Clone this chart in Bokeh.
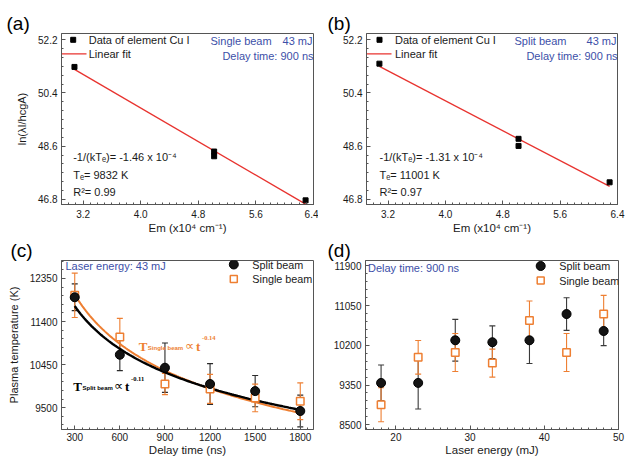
import numpy as np
from bokeh.plotting import figure
from bokeh.models import (Range1d, Label, Whisker, ColumnDataSource, FixedTicker,
                          TeeHead, PrintfTickFormatter)
from bokeh.layouts import row, column
from bokeh.embed import file_html
from bokeh.resources import INLINE

# ---------------- data ----------------
# (a) / (b) Boltzmann plots
em_levels = [3.08, 5.02, 5.02, 6.29]            # Em (x10^4 cm^-1)
ln_single = [51.28, 48.42, 48.26, 46.77]        # single beam, 43 mJ, 900 ns
ln_split = [51.39, 48.85, 48.61, 47.38]         # split beam, 43 mJ, 900 ns
em_ticks = [3.2, 4.0, 4.8, 5.6, 6.4]
ln_ticks = [46.8, 48.6, 50.4, 52.2]

# (c) temperature vs delay time
delay = [300, 600, 900, 1200, 1500, 1800]
T_split_delay = [11935, 10667, 10381, 10022, 9865, 9426]
err_split_delay = [295, 350, 545, 450, 345, 350]
T_single_delay = [11978, 11060, 10022, 9914, 9714, 9641]
err_single_delay = [490, 410, 235, 320, 305, 405]
# power-law fits T = T300 * (t/300)^k, as drawn in the figure
fit_T300 = {"split": 11741, "single": 11993}
fit_exponent = {"split": -0.121, "single": -0.137}
delay_ticks = [300, 600, 900, 1200, 1500, 1800]
Tc_ticks = [9500, 10450, 11400, 12350]

# (d) temperature vs laser energy
energy = [18, 23, 28, 33, 38, 43, 48]
T_split_energy = [9395, 9395, 10308, 10266, 10308, 10870, 10507]
err_split_energy = [385, 560, 447, 350, 497, 350, 313]
T_single_energy = [8927, 9943, 10046, 9819, 10734, 10046, 10870]
err_single_energy = [365, 360, 406, 300, 415, 406, 400]
energy_ticks = [20, 30, 40, 50]
Td_ticks = [8500, 9350, 10200, 11050, 11900]

# ---------------- style ----------------
FONT = "Liberation Sans"
SERIF = "Liberation Serif"
BLUE = "#3C4FA8"
ORANGE = "#EE7F32"
RED = "#E8332F"
AX = "#555555"
TXT = "#1a1a1a"


def make_fig(w, h, l, r, t, b, xr, yr, xticks, xminor, yticks, yminor,
             tag, tag_offset, fmt=None):
    p = figure(width=w, height=h, min_border_left=l, min_border_right=r,
               min_border_top=t, min_border_bottom=b,
               x_range=Range1d(*xr), y_range=Range1d(*yr),
               output_backend="svg", toolbar_location=None)
    fw, fh = w - l - r, h - t - b
    p.extra_x_ranges = {"px": Range1d(0, fw)}
    p.extra_y_ranges = {"py": Range1d(fh, 0)}
    p.xgrid.visible = False
    p.ygrid.visible = False
    p.outline_line_color = AX
    p.background_fill_color = "white"
    p.border_fill_color = "white"
    # panel tag as the title
    p.title.text = tag
    p.title.align = "left"
    p.title.offset = tag_offset
    p.title.standoff = 0
    p.title.text_font = FONT
    p.title.text_font_size = "19px"
    p.title.text_font_style = "normal"
    p.title.text_color = "black"
    p.xaxis.ticker = FixedTicker(ticks=xticks, minor_ticks=xminor)
    p.yaxis.ticker = FixedTicker(ticks=yticks, minor_ticks=yminor)
    if fmt:
        p.xaxis.formatter = PrintfTickFormatter(format=fmt)
        p.yaxis.formatter = PrintfTickFormatter(format=fmt)
    for ax in p.axis:
        ax.axis_line_color = AX
        ax.major_tick_in = 4
        ax.major_tick_out = 0
        ax.minor_tick_in = 2
        ax.minor_tick_out = 0
        ax.major_tick_line_color = AX
        ax.minor_tick_line_color = AX
        ax.major_label_text_font = FONT
        ax.major_label_text_font_size = "10px"
        ax.major_label_text_color = TXT
        ax.axis_label_text_font = FONT
        ax.axis_label_text_font_style = "normal"
        ax.axis_label_text_color = TXT
    p.xaxis.major_label_standoff = 5
    p.xaxis.axis_label_standoff = 1
    p.xaxis.axis_label_text_font_size = "11.5px"
    p.yaxis.major_label_standoff = 4
    p.yaxis.axis_label_standoff = 7
    p.yaxis.axis_label_text_font_size = "11px"
    return p, fw, fh


def lab(p, x, y, text, size="11px", color=TXT, align="left", baseline="middle",
        font=FONT, style="normal"):
    p.add_layout(Label(x=x, y=y, x_range_name="px", y_range_name="py", text=text,
                       text_font_size=size, text_color=color, text_align=align,
                       text_baseline=baseline, text_font=font, text_font_style=style))


def boltzmann(p, fw, yvals, beam, slope_txt, te_txt, r2_txt, x0):
    xs = np.array(em_levels)
    ys = np.array(yvals)
    k, c = np.polyfit(xs, ys, 1)
    xl = np.array([xs.min(), xs.max()])
    p.line(xl, k * xl + c, line_color=RED, line_width=1.3)
    p.scatter(em_levels, yvals, marker="square", size=5, fill_color="black", line_color="black")
    # legend
    p.line([-1, 25], [20.3, 20.3], x_range_name="px", y_range_name="py",
           line_color=RED, line_width=1.3)
    p.scatter([x0], [6.3], x_range_name="px", y_range_name="py", marker="square",
              size=5, fill_color="black", line_color="black")
    lab(p, x0 + 15.5, 6.3, "Data of element Cu I")
    lab(p, x0 + 15.5, 20.3, "Linear fit")
    lab(p, fw - 103, 7, beam, color=BLUE)
    lab(p, fw - 1, 7, "43 mJ", color=BLUE, align="right")
    lab(p, fw, 22, "Delay time: 900 ns", color=BLUE, align="right")
    lab(p, x0, 123.7, slope_txt)
    lab(p, x0, 141, te_txt)
    lab(p, x0, 158.7, r2_txt)


em_minor = list(np.round(np.arange(2.9, 6.41, 0.1), 2))
ln_minor = list(np.round(np.arange(46.8, 52.41, 0.3), 2))

# ---------------- (a) ----------------
pa, fwa, fha = make_fig(318, 237, 61, 5, 33, 33, (2.9, 6.4), (46.63, 52.41),
                        em_ticks, em_minor, ln_ticks, ln_minor, "(a)", -55, "%.1f")
pa.xaxis.axis_label = "Em (x10\u2074 cm\u207b\u00b9)"
pa.yaxis.axis_label = "ln(\u03bbI/hcgA)"
boltzmann(pa, fwa, ln_single, "Single beam",
          "-1/(kT\u2091)= -1.46 x 10\u207b\u2074", "T\u2091= 9832 K", "R\u00b2= 0.99", 11.7)

# ---------------- (b) ----------------
pb, fwb, fhb = make_fig(308, 237, 48, 9, 33, 33, (2.9, 6.4), (46.63, 52.41),
                        em_ticks, em_minor, ln_ticks, ln_minor, "(b)", -39, "%.1f")
pb.xaxis.axis_label = "Em (x10\u2074 cm\u207b\u00b9)"
boltzmann(pb, fwb, ln_split, "Split beam",
          "-1/(kT\u2091)= -1.31 x 10\u207b\u2074", "T\u2091= 11001 K", "R\u00b2= 0.97", 13)


def errbars(p, xs, ys, es, color):
    src = ColumnDataSource(dict(x=xs, upper=[y + e for y, e in zip(ys, es)],
                                lower=[y - e for y, e in zip(ys, es)]))
    p.add_layout(Whisker(source=src, base="x", upper="upper", lower="lower",
                         line_color=color, line_width=1.1,
                         upper_head=TeeHead(size=6, line_color=color, line_width=1.1),
                         lower_head=TeeHead(size=6, line_color=color, line_width=1.1)))


def markers(p, xs, ys_split, ys_single):
    p.scatter(xs, ys_single, marker="square", size=7.5, fill_color="white",
              line_color=ORANGE, line_width=1.5)
    p.scatter(xs, ys_split, marker="circle", size=9, fill_color="#141414",
              line_color="black")


def legend(p, x, y0):
    p.scatter([x], [y0], x_range_name="px", y_range_name="py", marker="circle",
              size=9, fill_color="#141414", line_color="black")
    p.scatter([x], [y0 + 14.5], x_range_name="px", y_range_name="py", marker="square",
              size=7, fill_color="white", line_color=ORANGE, line_width=1.5)
    lab(p, x + 18.5, y0, "Split beam", size="10.8px")
    lab(p, x + 18.5, y0 + 14.5, "Single beam", size="10.8px")


# ---------------- (c) ----------------
pc, fwc, fhc = make_fig(318, 222, 61, 5, 23, 30, (212, 1888), (9018, 12746),
                        delay_ticks, list(range(250, 1890, 50)),
                        Tc_ticks, list(range(9120, 12746, 190)), "(c)", -51)
pc.yaxis.axis_label = "Plasma temperature (K)"
pc.xaxis.axis_label = "Delay time (ns)"
pc.xaxis.major_label_standoff = 3
pc.xaxis.axis_label_standoff = 0
errbars(pc, delay, T_split_delay, err_split_delay, "#2a2a2a")
errbars(pc, delay, T_single_delay, err_single_delay, ORANGE)
tt = np.linspace(min(delay), max(delay), 120)
for key, col, lw in (("single", ORANGE, 2), ("split", "black", 2.4)):
    pc.line(tt, fit_T300[key] * (tt / delay[0]) ** fit_exponent[key],
            line_color=col, line_width=lw)
markers(pc, delay, T_split_delay, T_single_delay)
lab(pc, 4, 5.5, "Laser energy: 43 mJ", color=BLUE)
legend(pc, 172.3, 4)
# power-law annotations
lab(pc, 77.3, 86, "T", size="13px", color=ORANGE, baseline="alphabetic", font=SERIF, style="bold")
lab(pc, 86.3, 87, "Single beam", size="6px", color=ORANGE, baseline="alphabetic", style="bold")
lab(pc, 123.5, 85, "\u221d", size="13px", color=ORANGE, baseline="alphabetic", font="DejaVu Sans")
lab(pc, 134.5, 86, "t", size="13px", color=ORANGE, baseline="alphabetic", font=SERIF, style="bold")
lab(pc, 140.5, 77, "-0.14", size="6.5px", color=ORANGE, baseline="alphabetic", font=SERIF, style="bold")
lab(pc, 11.7, 126, "T", size="13px", color="black", baseline="alphabetic", font=SERIF, style="bold")
lab(pc, 21, 127, "Split beam", size="6px", color="black", baseline="alphabetic", style="bold")
lab(pc, 52.5, 125, "\u221d", size="13px", color="black", baseline="alphabetic", font="DejaVu Sans")
lab(pc, 63.5, 126, "t", size="13px", color="black", baseline="alphabetic", font=SERIF, style="bold")
lab(pc, 69.5, 118, "-0.11", size="6.5px", color="black", baseline="alphabetic", font=SERIF, style="bold")

# ---------------- (d) ----------------
pd_, fwd, fhd = make_fig(308, 222, 47, 8, 23, 30, (15.9, 50.0), (8397, 12017),
                         energy_ticks, list(range(16, 51, 1)),
                         Td_ticks, list(range(8500, 12017, 170)), "(d)", -38)
pd_.xaxis.axis_label = "Laser energy (mJ)"
pd_.xaxis.major_label_standoff = 3
pd_.xaxis.axis_label_standoff = 0
errbars(pd_, energy, T_split_energy, err_split_energy, "#3a3a3a")
errbars(pd_, energy, T_single_energy, err_single_energy, ORANGE)
markers(pd_, energy, T_split_energy, T_single_energy)
lab(pd_, 2.5, 7.5, "Delay time: 900 ns", color=BLUE)
legend(pd_, 175.2, 5.5)

layout = column(row(pa, pb), row(pc, pd_))
open("out.html", "w").write(file_html(layout, INLINE))
